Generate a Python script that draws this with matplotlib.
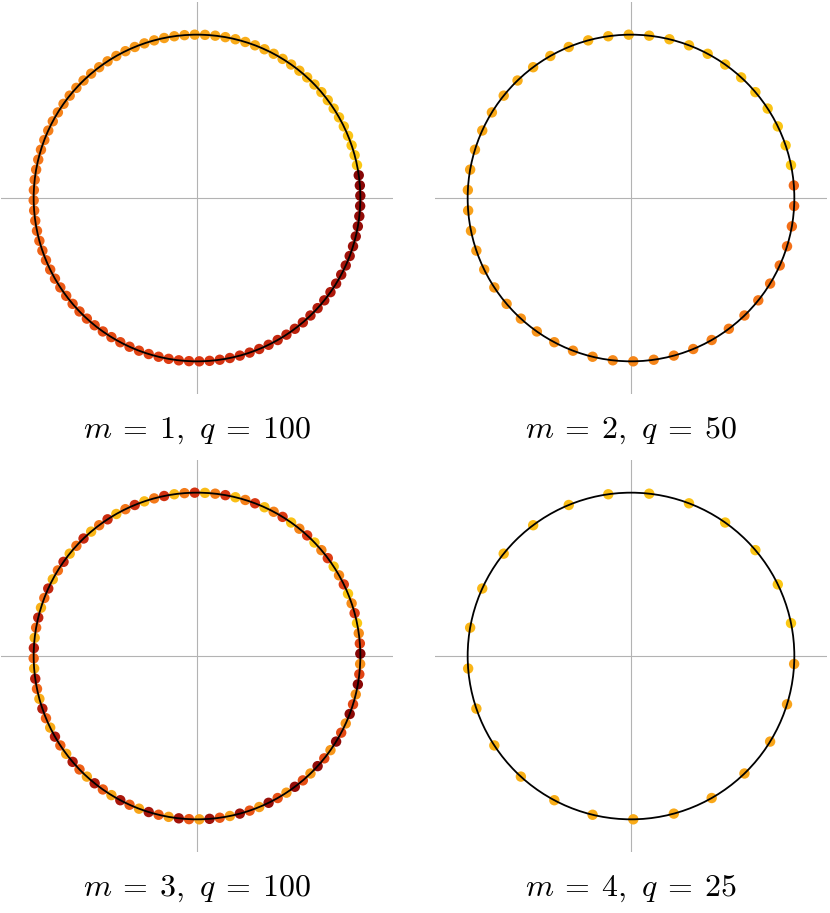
import matplotlib
matplotlib.use("Agg")
import numpy as np
import matplotlib.pyplot as plt
from matplotlib.colors import LinearSegmentedColormap
from matplotlib.patches import Circle

plt.rcParams["mathtext.fontset"] = "cm"

# ─── DATA ─────────────────────────────────────────────────────────────────────

# angle (degrees) of each point on the unit circle, counter-clockwise order
angles_q100 = [
    11.6, 15.2, 18.8, 22.4, 26.0, 29.6, 33.2, 36.8, 40.4, 44.0,
    47.6, 51.2, 54.8, 58.4, 62.0, 65.6, 69.2, 72.8, 76.4, 80.0,
    83.6, 87.2, 90.8, 94.4, 98.0, 101.6, 105.2, 108.8, 112.4, 116.0,
    119.6, 123.2, 126.8, 130.4, 134.0, 137.6, 141.2, 144.8, 148.4, 152.0,
    155.6, 159.2, 162.8, 166.4, 170.0, 173.6, 177.2, 180.8, 184.4, 188.0,
    191.6, 195.2, 198.8, 202.4, 206.0, 209.6, 213.2, 216.8, 220.4, 224.0,
    227.6, 231.2, 234.8, 238.4, 242.0, 245.6, 249.2, 252.8, 256.4, 260.0,
    263.6, 267.2, 270.8, 274.4, 278.0, 281.6, 285.2, 288.8, 292.4, 296.0,
    299.6, 303.2, 306.8, 310.4, 314.0, 317.6, 321.2, 324.8, 328.4, 332.0,
    335.6, 339.2, 342.8, 346.4, 350.0, 353.6, 357.2, 360.8, 364.4, 368.0,
]
angles_q50 = [
    11.6, 18.8, 26.0, 33.2, 40.4, 47.6, 54.8, 62.0, 69.2, 76.4,
    83.6, 90.8, 98.0, 105.2, 112.4, 119.6, 126.8, 134.0, 141.2, 148.4,
    155.6, 162.8, 170.0, 177.2, 184.4, 191.6, 198.8, 206.0, 213.2, 220.4,
    227.6, 234.8, 242.0, 249.2, 256.4, 263.6, 270.8, 278.0, 285.2, 292.4,
    299.6, 306.8, 314.0, 321.2, 328.4, 335.6, 342.8, 350.0, 357.2, 364.4,
]
angles_q25 = [
    11.6, 26.0, 40.4, 54.8, 69.2, 83.6, 98.0, 112.4, 126.8, 141.2,
    155.6, 170.0, 184.4, 198.8, 213.2, 227.6, 242.0, 256.4, 270.8, 285.2,
    299.6, 314.0, 328.4, 342.8, 357.2,
]

# colour level (index k, 0..99) of each point, same order as the angles
levels_m1 = [
    0, 1, 2, 3, 4, 5, 6, 7, 8, 9, 10, 11, 12, 13, 14, 15, 16, 17, 18, 19,
    20, 21, 22, 23, 24, 25, 26, 27, 28, 29, 30, 31, 32, 33, 34, 35, 36, 37, 38, 39,
    40, 41, 42, 43, 44, 45, 46, 47, 48, 49, 50, 51, 52, 53, 54, 55, 56, 57, 58, 59,
    60, 61, 62, 63, 64, 65, 66, 67, 68, 69, 70, 71, 72, 73, 74, 75, 76, 77, 78, 79,
    80, 81, 82, 83, 84, 85, 86, 87, 88, 89, 90, 91, 92, 93, 94, 95, 96, 97, 98, 99,
]
levels_m2 = [
    0, 1, 2, 3, 4, 5, 6, 7, 8, 9, 10, 11, 12, 13, 14, 15, 16, 17, 18, 19,
    20, 21, 22, 23, 24, 25, 26, 27, 28, 29, 30, 31, 32, 33, 34, 35, 36, 37, 38, 39,
    40, 41, 42, 43, 44, 45, 46, 47, 48, 49,
]
levels_m3 = [
    0, 67, 34, 1, 68, 35, 2, 69, 36, 3, 70, 37, 4, 71, 38, 5, 72, 39, 6, 73,
    40, 7, 74, 41, 8, 75, 42, 9, 76, 43, 10, 77, 44, 11, 78, 45, 12, 79, 46, 13,
    80, 47, 14, 81, 48, 15, 82, 49, 16, 83, 50, 17, 84, 51, 18, 85, 52, 19, 86, 53,
    20, 87, 54, 21, 88, 55, 22, 89, 56, 23, 90, 57, 24, 91, 58, 25, 92, 59, 26, 93,
    60, 27, 94, 61, 28, 95, 62, 29, 96, 63, 30, 97, 64, 31, 98, 65, 32, 99, 66, 33,
]
levels_m4 = [
    0, 1, 2, 3, 4, 5, 6, 7, 8, 9, 10, 11, 12, 13, 14, 15, 16, 17, 18, 19,
    20, 21, 22, 23, 24,
]

panels = [
    (r"$m\:=\:1,\ q\:=\:100$", angles_q100, levels_m1),
    (r"$m\:=\:2,\ q\:=\:50$", angles_q50, levels_m2),
    (r"$m\:=\:3,\ q\:=\:100$", angles_q100, levels_m3),
    (r"$m\:=\:4,\ q\:=\:25$", angles_q25, levels_m4),
]

cmap = LinearSegmentedColormap.from_list(
    "heat",
    [(0.0, "#fbc814"), (0.25, "#f8a01a"), (0.5, "#f26818"),
     (0.72, "#dc3812"), (0.86, "#b41c0c"), (1.0, "#860606")],
)

# ─── PLOT ─────────────────────────────────────────────────────────────────────

W, H = 830, 913
fig = plt.figure(figsize=(W / 100, H / 100), dpi=100)

# axes boxes in pixels: (left, top)
boxes = [(1, 2), (435, 2), (1, 460), (435, 460)]
size = 392

for (label, ang, lev), (left, top) in zip(panels, boxes):
    ax = fig.add_axes([left / W, 1 - (top + size) / H, size / W, size / H])
    ax.set_xlim(-1.2, 1.2)
    ax.set_ylim(-1.2, 1.2)
    ax.axis("off")

    ax.axhline(0, color="#b3b3b3", lw=0.8, zorder=1)
    ax.axvline(0, color="#b3b3b3", lw=0.8, zorder=1)

    th = np.deg2rad(ang)
    ax.scatter(np.cos(th), np.sin(th), c=lev, cmap=cmap, vmin=0, vmax=99,
               s=56, linewidths=0, zorder=2)
    ax.add_patch(Circle((0, 0), 1, fill=False, color="black", lw=1.3, zorder=3))

    fig.text((left + size / 2) / W, 1 - (top + size + 36) / H, label,
             ha="center", va="center", fontsize=23)

fig.savefig("out.png", dpi=100)
